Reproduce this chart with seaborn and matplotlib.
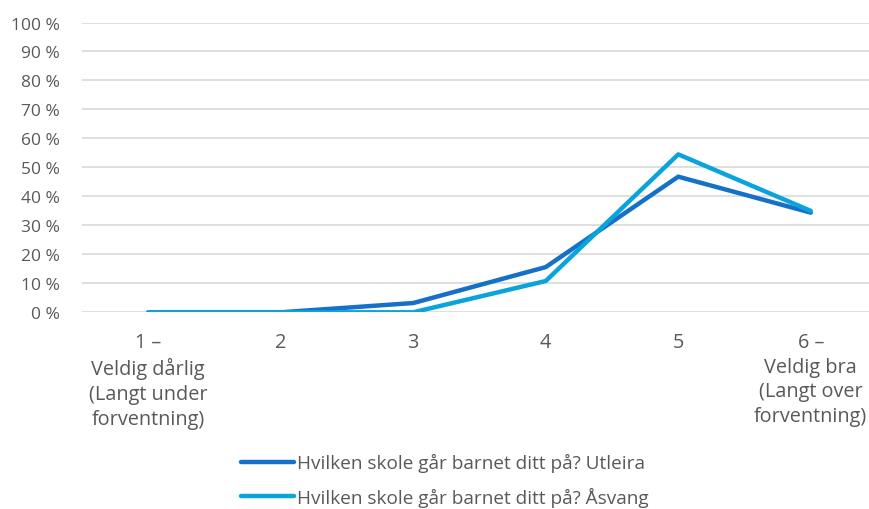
import matplotlib
matplotlib.use("Agg")
import matplotlib.pyplot as plt
import seaborn as sns
import pandas as pd

categories = ["1 –\nVeldig dårlig\n(Langt under\nforventning)", "2", "3", "4", "5",
              "6 –\nVeldig bra\n(Langt over\nforventning)"]
utleira = [0.0, 0.0, 3.2, 15.6, 46.8, 34.4]
asvang = [0.0, 0.0, 0.0, 10.8, 54.5, 35.0]
series_names = ["Hvilken skole går barnet ditt på? Utleira",
                "Hvilken skole går barnet ditt på? Åsvang"]
colors = ["#1570c8", "#0aa3dc"]
y_ticks = list(range(0, 101, 10))

sns.set_style("white")
plt.rcParams['font.family'] = ['Open Sans', 'DejaVu Sans']
text_color = "#595959"

df = pd.DataFrame({
    "x": list(range(len(categories))) * 2,
    "value": utleira + asvang,
    "series": [series_names[0]] * len(categories) + [series_names[1]] * len(categories),
})

fig = plt.figure(figsize=(8.69, 5.10), dpi=100)
ax = fig.add_axes([82 / 869, 196.7 / 510, 795 / 869, 289.8 / 510])

sns.lineplot(data=df, x="x", y="value", hue="series", palette=colors,
             linewidth=3.2, ax=ax, legend=False, solid_capstyle="round")

ax.set_xlim(-0.5, len(categories) - 0.5)
ax.set_ylim(0, 100)
ax.set_yticks(y_ticks)
ax.set_yticklabels(["{} %".format(t) for t in y_ticks])
ax.set_xticks(range(len(categories)))
ax.set_xticklabels(categories, linespacing=1.32)
ax.tick_params(axis="y", length=0, pad=16, labelsize=12.5, labelcolor=text_color)
ax.tick_params(axis="x", length=0, pad=14, labelsize=14.3, labelcolor=text_color)
ax.set_xlabel("")
ax.set_ylabel("")
ax.grid(axis="y", color="#d9d9d9", linewidth=1.2)
ax.set_axisbelow(True)
for spine in ax.spines.values():
    spine.set_visible(False)

handles = [plt.Line2D([0], [0], color=c, linewidth=3.2, solid_capstyle="round") for c in colors]
leg = fig.legend(handles, series_names, loc="upper left", bbox_to_anchor=(228 / 869, 1 - 441 / 510),
                 frameon=False, fontsize=13.7, handlelength=2.75, handletextpad=0.2,
                 labelspacing=0.75, borderpad=0.2)
for t in leg.get_texts():
    t.set_color(text_color)

fig.savefig("out.png", dpi=100)
